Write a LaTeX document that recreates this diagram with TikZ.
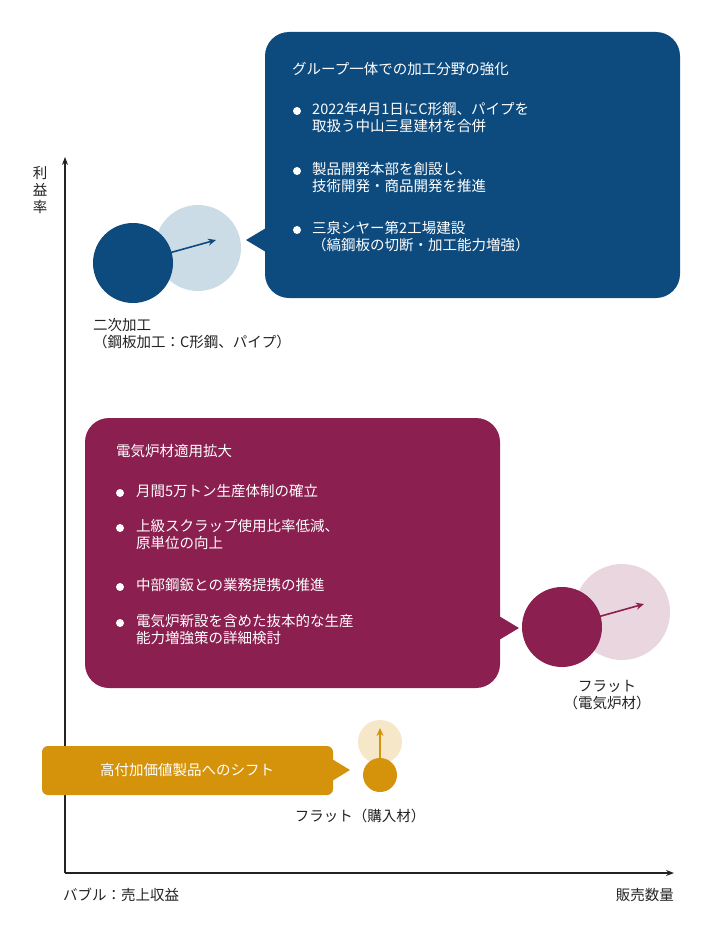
\documentclass[tikz,border=0pt]{standalone}
\usepackage{fontspec}
\usetikzlibrary{arrows.meta}
\setmainfont{Noto Sans CJK JP}
\begin{document}
\begin{tikzpicture}[x=1pt,y=-1pt,
 txt/.style={font=\fontsize{14.5}{17}\selectfont,inner sep=0},
 wt/.style={txt,text=white,align=left,anchor=north west},
 arr/.style={-{Stealth[length=8pt,width=7pt]},line width=1.6pt}]
\definecolor{bl}{HTML}{0D4A7E}\definecolor{lb}{HTML}{CCDCE6}
\definecolor{pu}{HTML}{8B1F50}\definecolor{lp}{HTML}{E9D6DF}
\definecolor{or}{HTML}{D4930A}\definecolor{lo}{HTML}{F6E7C9}
\definecolor{tx}{HTML}{222222}
\useasboundingbox (0,0) rectangle (710,934);
% axes
\coordinate (o) at (65,873); \coordinate (yt) at (65,157); \coordinate (xt) at (674,873);
\draw[-{Stealth[length=8pt,width=6pt]},line width=1.2pt,tx] (o)--(yt);
\draw[-{Stealth[length=8pt,width=6pt]},line width=1.2pt,tx] (o)--(xt);
\node[txt,align=center,text=tx] (yl) at (40,190) {利\\益\\率};
\node[txt,anchor=west,text=tx] (xl) at (63,895) {バブル：売上収益};
\node[txt,anchor=east,text=tx] (xr) at (674,895) {販売数量};
% blue
\fill[bl,rounded corners=24] (265,32) rectangle (680,298);
\fill[bl] (266,228)--(246,240)--(266,252)--cycle;
\node[wt] (bt) at (292,62) {グループ一体での加工分野の強化};
\node[wt] (b1) at (312,102) {2022年4月1日にC形鋼、パイプを\\取扱う中山三星建材を合併};
\node[wt] (b2) at (312,162) {製品開発本部を創設し、\\技術開発・商品開発を推進};
\node[wt] (b3) at (312,221) {三泉シヤー第2工場建設\\（縞鋼板の切断・加工能力増強）};
\foreach \y in {111,171,230} \fill[white] (297,\y) circle (4);
\fill[lb] (198,248) circle (43);
\fill[bl] (133,263) circle (40);
\draw[arr,bl] (133,263)--(216,240);
\node[txt,anchor=north west,align=left,text=tx] (bl1) at (93,318) {二次加工\\（鋼板加工：C形鋼、パイプ）};
% purple
\fill[pu,rounded corners=24] (85,418) rectangle (500,688);
\fill[pu] (499,616)--(519,628)--(499,640)--cycle;
\node[wt] (pt) at (116,444) {電気炉材適用拡大};
\node[wt] (p1) at (136,484) {月間5万トン生産体制の確立};
\node[wt] (p2) at (136,519) {上級スクラップ使用比率低減、\\原単位の向上};
\node[wt] (p3) at (136,578) {中部鋼鈑との業務提携の推進};
\node[wt] (p4) at (136,614) {電気炉新設を含めた抜本的な生産\\能力増強策の詳細検討};
\foreach \y in {493,528,587,623} \fill[white] (120,\y) circle (4);
\fill[lp] (622,612) circle (48);
\fill[pu] (562,627) circle (40);
\draw[arr,pu] (562,627)--(644,604);
\node[txt,align=center,text=tx] (pl) at (607,695) {フラット\\（電気炉材）};
% orange
\fill[lo] (380,742) circle (22);
\fill[or] (380,775) circle (17);
\draw[arr,or] (380,762)--(380,728);
\fill[or,rounded corners=6] (42,746) rectangle (333,795);
\fill[or] (332,759)--(350,770)--(332,781)--cycle;
\node[txt,text=white] (ot) at (187,770) {高付加価値製品へのシフト};
\node[txt,text=tx] (ol) at (360,816) {フラット（購入材）};
\end{tikzpicture}
\end{document}
